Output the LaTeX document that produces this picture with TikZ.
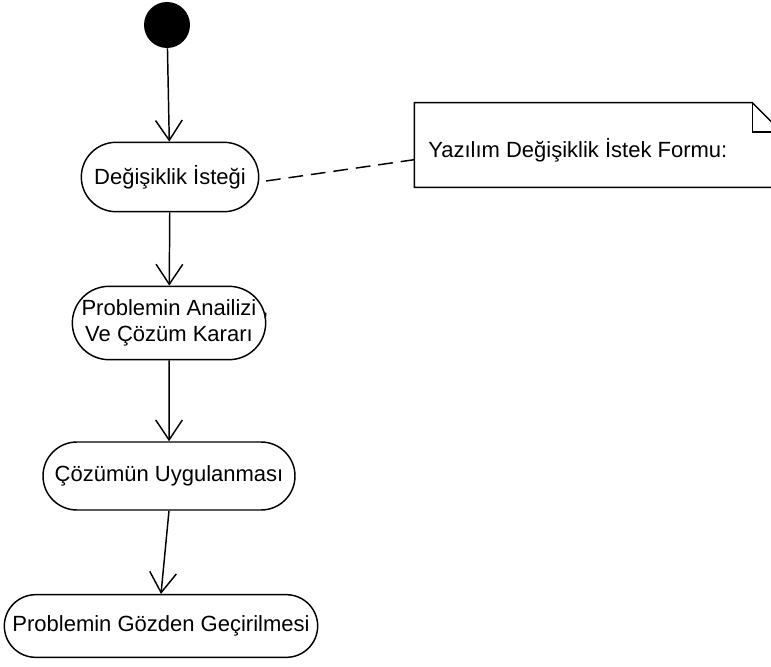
\documentclass[tikz,border=0pt]{standalone}
\usepackage{fontspec}
\setmainfont{Liberation Sans}
\usetikzlibrary{shapes.misc}
\usetikzlibrary{arrows.meta}

\begin{document}
\begin{tikzpicture}[x=0.75pt, y=-0.75pt,
    activity/.style={draw, rounded rectangle, line width=1.1pt, inner sep=0pt,
      font=\fontsize{16.5}{19}\selectfont, align=center},
    flow/.style={line width=1.1pt, -{Straight Barb[length=15pt, width=20pt, line width=1.1pt]}}]
  \useasboundingbox (0,0) rectangle (771,667);
  \clip (0,0) rectangle (771,667);

  % Draw the start point
  \node[circle, fill=black, minimum size=34.5pt, inner sep=0pt] (start) at (167,25) {};

  % Draw the activities
  \node[activity, minimum width=133pt, minimum height=52pt] (request) at (170,177) {Değişiklik İsteği};
  \node[activity, minimum width=145pt, minimum height=55pt] (analysis) at (169,323) {Problemin Anailizi\rlap{ ,}\\Ve Çözüm Kararı};
  \node[activity, minimum width=189pt, minimum height=51pt] (apply) at (169,476) {Çözümün Uygulanması};
  \node[activity, minimum width=235pt, minimum height=47pt] (review) at (161,626) {Problemin Gözden Geçirilmesi};

  % Draw the note with its folded corner
  \node[minimum width=275pt, minimum height=63pt, inner sep=0pt] (form) at (598,145) {};
  \node[anchor=base west, inner sep=0pt, font=\fontsize{16.5}{19}\selectfont] (formtext) at (428,157) {Yazılım Değişiklik İstek Formu:};
  \draw[line width=1.1pt] (form.north west) -- ([xshift=-22pt]form.north east) -- ([yshift=-22pt]form.north east)
    -- (form.south east) -- (form.south west) -- cycle;
  \draw[line width=1.1pt] ([xshift=-22pt]form.north east) |- ([yshift=-22pt]form.north east);

  % Draw the control flow
  \draw[flow] (start) -- (request);
  \draw[flow] (request) -- (analysis);
  \draw[flow] (analysis) -- (apply);
  \draw[flow] (apply.south) -- (review.north);

  % Attach the note
  \draw[line width=1.1pt, dash pattern=on 11pt off 6pt] ([xshift=5pt,yshift=-3pt]request.east) -- ([yshift=-11pt]form.west);
\end{tikzpicture}
\end{document}
